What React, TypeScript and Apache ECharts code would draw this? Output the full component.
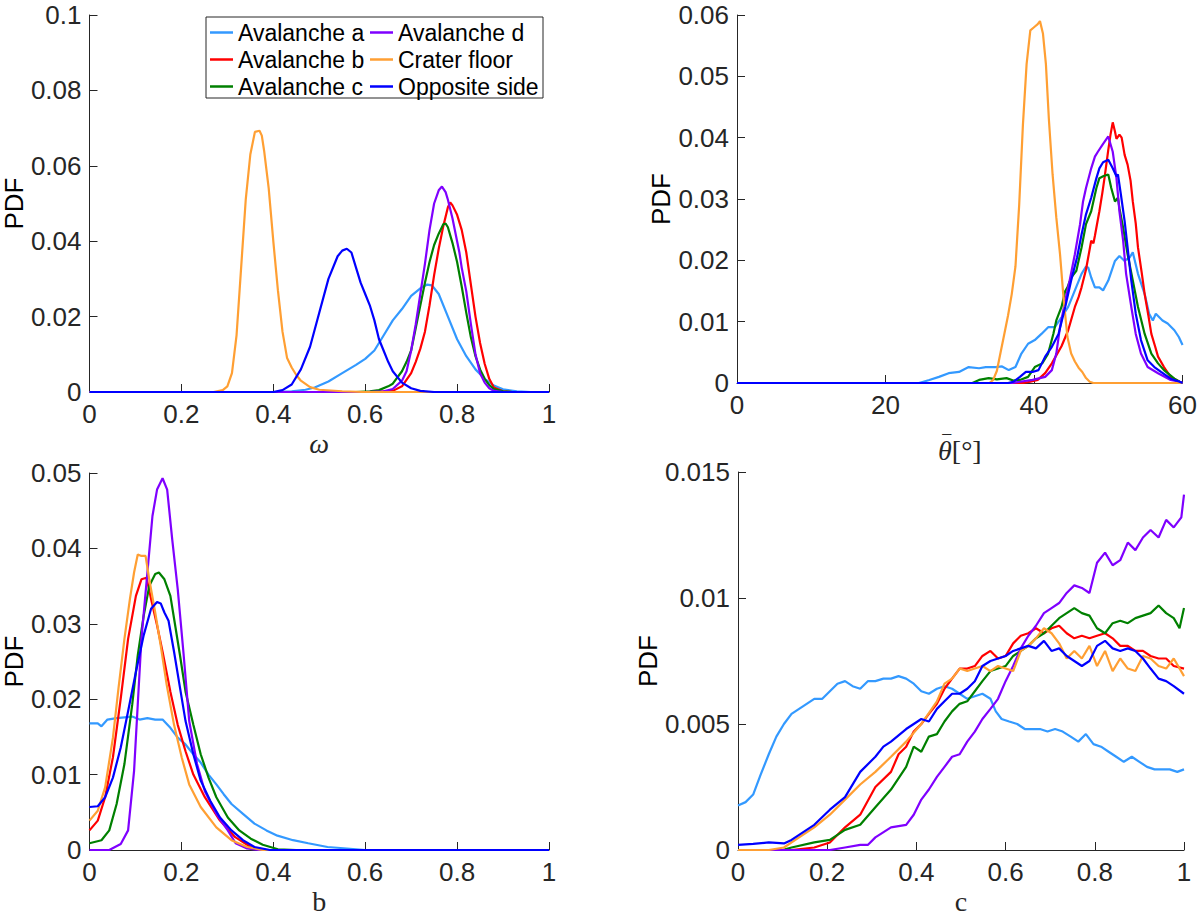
import React, { useEffect, useRef } from "react";
import * as echarts from "echarts";

type Pt = [number, number];

const seriesNames = ["Avalanche a", "Avalanche b", "Avalanche c", "Avalanche d", "Crater floor", "Opposite side"];
const seriesColors = ["#3399ff", "#ff0000", "#008000", "#7f00ff", "#ff9f33", "#0000ff"];
const legendColumn1 = ["Avalanche a", "Avalanche b", "Avalanche c"];
const legendColumn2 = ["Avalanche d", "Crater floor", "Opposite side"];

const xTicksOmega = [0, 0.2, 0.4, 0.6, 0.8, 1];
const yTicksOmega = [0, 0.02, 0.04, 0.06, 0.08, 0.1];
const xTicksTheta = [0, 20, 40, 60];
const yTicksTheta = [0, 0.01, 0.02, 0.03, 0.04, 0.05, 0.06];
const xTicksB = [0, 0.2, 0.4, 0.6, 0.8, 1];
const yTicksB = [0, 0.01, 0.02, 0.03, 0.04, 0.05];
const xTicksC = [0, 0.2, 0.4, 0.6, 0.8, 1];
const yTicksC = [0, 0.005, 0.01, 0.015];

// ---------- panel 1: omega ----------
const omegaA: Pt[] = [[0,0],[0.40,0],[0.44,0.0002],[0.47,0.0006],[0.49,0.0012],[0.52,0.0028],[0.55,0.005],[0.58,0.0072],[0.60,0.0088],[0.62,0.011],[0.64,0.015],[0.66,0.019],[0.68,0.022],[0.70,0.0255],[0.72,0.0275],[0.735,0.0285],[0.745,0.0283],[0.76,0.026],[0.78,0.02],[0.80,0.014],[0.82,0.0095],[0.84,0.006],[0.86,0.0035],[0.88,0.0017],[0.90,0.0007],[0.93,0.0002],[0.96,0],[1,0]];
const omegaB: Pt[] = [[0,0],[0.62,0],[0.66,0.0003],[0.68,0.0015],[0.70,0.005],[0.71,0.008],[0.72,0.0115],[0.73,0.016],[0.74,0.023],[0.75,0.031],[0.76,0.038],[0.77,0.044],[0.78,0.049],[0.785,0.0503],[0.79,0.0495],[0.80,0.047],[0.81,0.043],[0.82,0.037],[0.83,0.0285],[0.84,0.02],[0.85,0.013],[0.86,0.0075],[0.87,0.0035],[0.88,0.0012],[0.90,0.0002],[0.92,0],[1,0]];
const omegaC: Pt[] = [[0,0],[0.58,0],[0.61,0.0002],[0.63,0.0005],[0.65,0.0015],[0.66,0.0022],[0.68,0.0055],[0.69,0.008],[0.70,0.011],[0.71,0.017],[0.72,0.023],[0.73,0.029],[0.74,0.0345],[0.75,0.039],[0.76,0.042],[0.77,0.0445],[0.775,0.0447],[0.78,0.0437],[0.79,0.0395],[0.80,0.0345],[0.81,0.028],[0.82,0.021],[0.83,0.0145],[0.84,0.0095],[0.85,0.006],[0.86,0.0035],[0.87,0.0018],[0.88,0.0008],[0.90,0.0002],[0.92,0],[1,0]];
const omegaD: Pt[] = [[0,0],[0.60,0],[0.64,0.0002],[0.66,0.0008],[0.68,0.003],[0.69,0.0055],[0.70,0.011],[0.71,0.018],[0.72,0.026],[0.73,0.034],[0.74,0.043],[0.75,0.05],[0.76,0.0535],[0.767,0.0545],[0.775,0.053],[0.78,0.051],[0.79,0.046],[0.80,0.04],[0.805,0.037],[0.81,0.033],[0.82,0.0267],[0.83,0.018],[0.84,0.010],[0.85,0.005],[0.86,0.0025],[0.87,0.001],[0.88,0.0003],[0.90,0],[1,0]];
const omegaCrater: Pt[] = [[0,0],[0.27,0],[0.29,0.0005],[0.30,0.0015],[0.31,0.005],[0.32,0.015],[0.33,0.033],[0.34,0.051],[0.35,0.063],[0.36,0.069],[0.37,0.0693],[0.375,0.068],[0.38,0.064],[0.39,0.054],[0.40,0.04],[0.41,0.027],[0.42,0.016],[0.43,0.009],[0.44,0.0065],[0.45,0.0045],[0.46,0.003],[0.48,0.0013],[0.50,0.0006],[0.55,0.0002],[0.60,0],[1,0]];
const omegaOpposite: Pt[] = [[0,0],[0.40,0],[0.42,0.0005],[0.44,0.002],[0.46,0.006],[0.48,0.012],[0.50,0.021],[0.52,0.03],[0.54,0.036],[0.55,0.0375],[0.56,0.038],[0.57,0.037],[0.58,0.033],[0.59,0.029],[0.60,0.026],[0.61,0.023],[0.62,0.019],[0.63,0.014],[0.64,0.011],[0.65,0.008],[0.66,0.0055],[0.68,0.0025],[0.70,0.001],[0.72,0.0003],[0.75,0],[1,0]];

// ---------- panel 2: mean slope theta ----------
const thetaA: Pt[] = [[0,0],[24.5,0],[25.9,0.0005],[27.2,0.001],[28.5,0.0016],[29.9,0.0018],[31.2,0.0026],[32.6,0.0024],[33.5,0.0026],[34.8,0.0026],[35.7,0.0027],[36.6,0.0021],[37.5,0.0026],[38.3,0.0048],[39.2,0.0064],[40.1,0.007],[41.0,0.008],[41.9,0.0091],[42.8,0.0091],[43.7,0.0107],[44.6,0.0124],[45.5,0.0151],[46.4,0.0178],[47.0,0.019],[47.3,0.0188],[47.7,0.0172],[48.2,0.0156],[48.8,0.0156],[49.3,0.0151],[50.0,0.0167],[50.9,0.0199],[51.5,0.0207],[52.2,0.0199],[52.9,0.0205],[53.3,0.0213],[54.0,0.0178],[54.9,0.0145],[55.5,0.0113],[56.0,0.0102],[56.4,0.0113],[57.3,0.0102],[58.0,0.0097],[58.9,0.0086],[59.5,0.0075],[60,0.0062]];
const thetaB: Pt[] = [[0,0],[38.5,0],[39.5,0.0002],[40.5,0.0005],[41.5,0.0016],[42.4,0.0032],[43,0.0045],[43.7,0.006],[44.6,0.0086],[45.5,0.0124],[46,0.014],[46.4,0.0156],[47,0.0185],[47.3,0.0205],[47.7,0.0232],[48,0.0228],[48.2,0.024],[48.8,0.028],[49.2,0.031],[49.5,0.0335],[50,0.038],[50.3,0.0405],[50.6,0.0425],[50.9,0.041],[51.1,0.0398],[51.5,0.0405],[51.8,0.04],[52.2,0.0372],[52.6,0.0356],[53,0.033],[53.3,0.0296],[53.7,0.026],[54,0.0221],[54.5,0.018],[54.9,0.0145],[55.4,0.011],[55.8,0.008],[56.3,0.006],[56.7,0.0043],[57.5,0.0026],[58.4,0.001],[59.6,0.0002],[60,0]];
const thetaC: Pt[] = [[0,0],[31.7,0],[32.6,0.0005],[33.9,0.0008],[35,0.0006],[36.3,0.0008],[37.2,0.0004],[38.1,0.0005],[39.2,0.001],[40.1,0.0026],[41.1,0.0032],[41.9,0.0048],[42.6,0.008],[43.0,0.0102],[43.7,0.0124],[44.2,0.015],[44.5,0.0156],[45.0,0.0172],[45.7,0.0183],[46.4,0.0221],[47.0,0.0259],[47.7,0.028],[48.4,0.0318],[48.8,0.0334],[49.3,0.0337],[50.0,0.034],[50.4,0.0318],[50.9,0.0296],[51.3,0.0302],[51.5,0.0285],[52.0,0.0253],[52.6,0.021],[53.3,0.0167],[54.0,0.0124],[54.9,0.008],[55.8,0.0048],[56.7,0.0032],[57.5,0.0021],[58.9,0.0007],[59.6,0.0002],[60,0]];
const thetaD: Pt[] = [[0,0],[37,0],[38.1,0.0002],[39.8,0.0005],[41.5,0.001],[42.4,0.0021],[43.0,0.0048],[43.5,0.0091],[44.2,0.0134],[44.8,0.0167],[45.5,0.021],[46.2,0.0259],[46.6,0.0296],[47.0,0.0318],[47.7,0.035],[48.2,0.0369],[48.6,0.0377],[49.3,0.039],[50.0,0.0402],[50.6,0.0377],[51.1,0.0334],[51.5,0.028],[52.0,0.0232],[52.4,0.0178],[53.1,0.0124],[53.7,0.008],[54.4,0.0048],[55.3,0.0026],[56.7,0.0016],[58.4,0.0005],[59.6,0.0002],[60,0]];
const thetaCrater: Pt[] = [[0,0],[34,0],[34.5,0.0005],[35,0.002],[35.5,0.005],[36,0.008],[36.5,0.011],[37,0.0145],[37.5,0.019],[38,0.029],[38.5,0.042],[39,0.052],[39.5,0.0575],[40,0.058],[40.5,0.0585],[40.8,0.059],[41.2,0.057],[41.6,0.052],[42,0.043],[42.5,0.034],[43,0.027],[43.5,0.021],[44,0.0135],[44.5,0.0075],[45,0.0048],[45.5,0.0035],[46,0.0025],[46.5,0.0018],[47,0.0008],[47.5,0.0002],[48,0],[60,0]];
const thetaOpposite: Pt[] = [[0,0],[36.5,0],[37.2,0.0002],[38.1,0.001],[38.9,0.0018],[39.8,0.0018],[40.6,0.0021],[41.5,0.0043],[42.4,0.0059],[43.3,0.008],[44.2,0.0124],[45.0,0.0167],[45.8,0.0205],[46.4,0.0242],[47.0,0.0275],[47.7,0.0302],[48.4,0.0334],[48.8,0.035],[49.3,0.036],[50.0,0.0364],[50.6,0.035],[51.1,0.0337],[51.3,0.034],[51.7,0.0307],[52.2,0.0264],[52.6,0.0221],[53.1,0.0167],[53.7,0.0113],[54.4,0.007],[55.3,0.0037],[56.2,0.0026],[57.1,0.0018],[58.4,0.0007],[59.6,0.0002],[60,0]];

// ---------- panel 3: b ----------
const bA: Pt[] = [[0,0.0168],[0.018,0.0168],[0.026,0.0164],[0.039,0.0173],[0.059,0.0175],[0.076,0.0176],[0.093,0.0177],[0.109,0.0173],[0.126,0.0175],[0.143,0.0173],[0.159,0.0173],[0.176,0.0162],[0.192,0.0149],[0.209,0.014],[0.226,0.0127],[0.242,0.0116],[0.259,0.01],[0.276,0.0087],[0.292,0.0074],[0.309,0.0061],[0.334,0.0048],[0.359,0.0035],[0.385,0.0026],[0.409,0.0019],[0.443,0.0013],[0.476,0.0009],[0.518,0.0004],[0.56,0.0002],[0.6,0],[1,0]];
const bB: Pt[] = [[0,0.0026],[0.018,0.0039],[0.034,0.007],[0.051,0.0123],[0.068,0.0201],[0.084,0.028],[0.101,0.0337],[0.113,0.0359],[0.124,0.0361],[0.134,0.0333],[0.147,0.0298],[0.159,0.0263],[0.176,0.021],[0.192,0.0166],[0.209,0.0131],[0.226,0.01],[0.251,0.007],[0.284,0.0039],[0.317,0.0017],[0.351,0.0004],[0.385,0],[1,0]];
const bC: Pt[] = [[0,0.0009],[0.026,0.0013],[0.043,0.0026],[0.059,0.0061],[0.076,0.0114],[0.093,0.0193],[0.105,0.0258],[0.118,0.0311],[0.13,0.035],[0.143,0.0366],[0.151,0.0368],[0.163,0.0359],[0.176,0.0337],[0.184,0.0307],[0.197,0.0258],[0.209,0.021],[0.226,0.0166],[0.242,0.0127],[0.259,0.0096],[0.276,0.007],[0.301,0.0043],[0.326,0.0026],[0.351,0.0015],[0.377,0.0007],[0.41,0.0001],[0.45,0],[1,0]];
const bD: Pt[] = [[0,0],[0.043,0],[0.068,0.0008],[0.084,0.0026],[0.097,0.0105],[0.105,0.0193],[0.113,0.028],[0.126,0.0368],[0.137,0.0443],[0.147,0.0478],[0.159,0.0493],[0.169,0.0478],[0.18,0.0412],[0.192,0.0346],[0.205,0.0258],[0.217,0.0171],[0.234,0.0114],[0.251,0.0078],[0.276,0.0048],[0.301,0.0026],[0.318,0.0009],[0.343,0.0002],[0.37,0],[1,0]];
const bCrater: Pt[] = [[0,0.0039],[0.018,0.0052],[0.034,0.0083],[0.051,0.0149],[0.063,0.0214],[0.076,0.028],[0.088,0.0333],[0.097,0.0368],[0.105,0.0392],[0.113,0.039],[0.122,0.039],[0.13,0.0359],[0.143,0.0315],[0.155,0.0271],[0.168,0.0219],[0.184,0.0166],[0.201,0.0122],[0.217,0.0087],[0.242,0.0057],[0.276,0.003],[0.309,0.0013],[0.343,0.0004],[0.377,0],[1,0]];
const bOpposite: Pt[] = [[0,0.0057],[0.018,0.0058],[0.034,0.007],[0.051,0.0096],[0.068,0.0136],[0.084,0.0184],[0.101,0.0236],[0.118,0.0285],[0.134,0.032],[0.147,0.0329],[0.155,0.0327],[0.163,0.0315],[0.172,0.0304],[0.184,0.0263],[0.197,0.0215],[0.209,0.0171],[0.226,0.0127],[0.242,0.0092],[0.263,0.0065],[0.284,0.0043],[0.309,0.0026],[0.334,0.0013],[0.359,0.0004],[0.393,0],[1,0]];

// ---------- panel 4: c ----------
const cA: Pt[] = [[0,0.00177],[0.017,0.0019],[0.034,0.0022],[0.051,0.003],[0.069,0.0038],[0.086,0.0045],[0.103,0.005],[0.12,0.0054],[0.137,0.0056],[0.154,0.0058],[0.171,0.006],[0.189,0.006],[0.206,0.0063],[0.223,0.0066],[0.24,0.0067],[0.257,0.0065],[0.274,0.0064],[0.291,0.0067],[0.308,0.0067],[0.326,0.0068],[0.343,0.0068],[0.36,0.0069],[0.377,0.0068],[0.394,0.0066],[0.411,0.0063],[0.428,0.0062],[0.446,0.0064],[0.463,0.0065],[0.48,0.0064],[0.497,0.0062],[0.514,0.006],[0.531,0.0061],[0.548,0.0062],[0.566,0.006],[0.578,0.0055],[0.591,0.0052],[0.608,0.0051],[0.626,0.005],[0.643,0.0048],[0.66,0.0048],[0.677,0.0048],[0.694,0.0047],[0.711,0.0048],[0.728,0.0047],[0.746,0.0045],[0.763,0.0043],[0.78,0.0046],[0.797,0.0042],[0.814,0.0041],[0.831,0.0039],[0.848,0.0037],[0.865,0.0035],[0.883,0.0037],[0.9,0.0035],[0.917,0.0033],[0.934,0.0032],[0.951,0.0032],[0.968,0.0032],[0.985,0.0031],[1,0.0032]];
const cB: Pt[] = [[0,0],[0.12,0],[0.171,0.0001],[0.206,0.0003],[0.24,0.0009],[0.274,0.0014],[0.308,0.0025],[0.343,0.0031],[0.36,0.0038],[0.377,0.0041],[0.394,0.0047],[0.411,0.005],[0.428,0.0054],[0.446,0.0058],[0.463,0.0064],[0.48,0.0068],[0.497,0.0072],[0.514,0.0072],[0.531,0.0073],[0.548,0.0077],[0.566,0.0079],[0.583,0.0076],[0.6,0.0077],[0.617,0.0082],[0.634,0.0085],[0.651,0.0086],[0.668,0.0088],[0.686,0.0086],[0.703,0.0088],[0.72,0.0089],[0.737,0.0086],[0.754,0.0084],[0.771,0.0085],[0.788,0.0084],[0.805,0.0085],[0.823,0.0086],[0.84,0.0084],[0.857,0.0081],[0.874,0.0081],[0.891,0.0079],[0.908,0.0079],[0.925,0.0077],[0.943,0.0076],[0.96,0.0076],[0.977,0.0073],[1,0.0072]];
const cC: Pt[] = [[0,0],[0.1,0],[0.12,0.0001],[0.171,0.0003],[0.206,0.0004],[0.24,0.0008],[0.274,0.001],[0.308,0.0017],[0.343,0.0024],[0.377,0.0033],[0.394,0.0041],[0.411,0.0039],[0.428,0.0045],[0.446,0.0046],[0.463,0.0051],[0.48,0.0055],[0.497,0.0058],[0.514,0.0059],[0.531,0.0063],[0.548,0.0067],[0.566,0.0071],[0.583,0.0072],[0.6,0.0073],[0.617,0.0077],[0.634,0.0079],[0.651,0.0081],[0.668,0.0084],[0.686,0.0086],[0.703,0.0089],[0.72,0.0092],[0.737,0.0094],[0.754,0.0096],[0.771,0.0094],[0.788,0.0093],[0.805,0.0088],[0.823,0.0086],[0.84,0.009],[0.857,0.0091],[0.874,0.009],[0.891,0.0092],[0.908,0.0093],[0.925,0.0094],[0.943,0.0097],[0.96,0.0094],[0.977,0.0092],[0.99,0.0088],[1,0.0096]];
const cD: Pt[] = [[0,0],[0.206,0],[0.24,0.0001],[0.274,0.0002],[0.291,0.0002],[0.308,0.0005],[0.343,0.0009],[0.377,0.001],[0.394,0.0014],[0.411,0.002],[0.428,0.0024],[0.446,0.0029],[0.463,0.0033],[0.48,0.0037],[0.497,0.0038],[0.514,0.0043],[0.531,0.0047],[0.548,0.0052],[0.566,0.0056],[0.583,0.006],[0.6,0.0067],[0.617,0.0073],[0.634,0.008],[0.651,0.0085],[0.668,0.0089],[0.686,0.0094],[0.703,0.0096],[0.72,0.0098],[0.737,0.0102],[0.754,0.0105],[0.771,0.0104],[0.788,0.0102],[0.805,0.0114],[0.823,0.0118],[0.84,0.0113],[0.857,0.0115],[0.874,0.0122],[0.891,0.0119],[0.908,0.0124],[0.925,0.0127],[0.943,0.0124],[0.96,0.0131],[0.977,0.0128],[0.994,0.0132],[1,0.0141]];
const cCrater: Pt[] = [[0,0],[0.069,0],[0.103,0.0001],[0.137,0.0005],[0.171,0.0009],[0.206,0.0014],[0.24,0.002],[0.274,0.0026],[0.308,0.0031],[0.343,0.0037],[0.377,0.0043],[0.411,0.005],[0.446,0.0059],[0.463,0.0066],[0.48,0.0068],[0.497,0.0072],[0.514,0.0071],[0.531,0.0072],[0.548,0.0073],[0.566,0.0071],[0.583,0.0073],[0.6,0.0072],[0.617,0.0071],[0.634,0.0079],[0.651,0.0081],[0.668,0.0084],[0.686,0.0088],[0.703,0.0086],[0.72,0.0082],[0.737,0.0076],[0.754,0.0079],[0.771,0.0076],[0.788,0.0081],[0.805,0.0073],[0.823,0.0079],[0.84,0.0071],[0.857,0.0076],[0.874,0.0072],[0.891,0.0071],[0.908,0.0077],[0.925,0.0076],[0.943,0.0073],[0.96,0.0072],[0.977,0.0076],[1,0.0069]];
const cOpposite: Pt[] = [[0,0.0002],[0.034,0.00024],[0.069,0.0003],[0.103,0.00026],[0.12,0.0004],[0.137,0.0006],[0.171,0.001],[0.206,0.0016],[0.24,0.0021],[0.274,0.0031],[0.308,0.0037],[0.326,0.0041],[0.343,0.0043],[0.377,0.0048],[0.394,0.005],[0.411,0.0052],[0.428,0.0051],[0.446,0.0056],[0.463,0.0059],[0.48,0.0062],[0.497,0.0062],[0.514,0.0064],[0.531,0.0067],[0.548,0.0073],[0.566,0.0075],[0.583,0.0076],[0.6,0.0077],[0.617,0.0079],[0.634,0.008],[0.651,0.0081],[0.668,0.008],[0.686,0.0083],[0.703,0.0079],[0.72,0.008],[0.737,0.0077],[0.754,0.0075],[0.771,0.0073],[0.788,0.0075],[0.805,0.0081],[0.823,0.0083],[0.84,0.008],[0.857,0.0079],[0.874,0.008],[0.891,0.0079],[0.908,0.0076],[0.925,0.0072],[0.943,0.0068],[0.96,0.0067],[0.977,0.0065],[1,0.0062]];

const panelData: Pt[][][] = [
  [omegaA, omegaB, omegaC, omegaD, omegaCrater, omegaOpposite],
  [thetaA, thetaB, thetaC, thetaD, thetaCrater, thetaOpposite],
  [bA, bB, bC, bD, bCrater, bOpposite],
  [cA, cB, cC, cD, cCrater, cOpposite],
];

const AXIS_COLOR = "#262626";
const SANS = "Liberation Sans";
const SERIF = "Liberation Serif";

function makeXAxis(gridIndex: number, ticks: number[], name: string, italic: boolean, nameGap: number, rich?: any) {
  return {
    type: "value",
    gridIndex,
    min: ticks[0],
    max: ticks[ticks.length - 1],
    interval: ticks[1] - ticks[0],
    name,
    nameLocation: "middle",
    nameGap,
    nameTextStyle: {
      fontFamily: SERIF,
      fontStyle: italic ? "italic" : "normal",
      fontSize: 28,
      color: AXIS_COLOR,
      rich,
    },
    axisLine: { show: true, onZero: false, lineStyle: { color: AXIS_COLOR, width: 1 } },
    axisTick: { show: true, inside: true, length: 8, lineStyle: { color: AXIS_COLOR, width: 1 } },
    axisLabel: { fontFamily: SANS, fontSize: 26, lineHeight: 20, color: AXIS_COLOR, margin: 12 },
    splitLine: { show: false },
  };
}

function makeYAxis(gridIndex: number, ticks: number[], nameGap: number) {
  return {
    type: "value",
    gridIndex,
    min: ticks[0],
    max: ticks[ticks.length - 1],
    interval: ticks[1] - ticks[0],
    name: "PDF",
    nameLocation: "middle",
    nameRotate: 90,
    nameGap,
    nameTextStyle: { fontFamily: SANS, fontSize: 26, color: "#000" },
    axisLine: { show: true, onZero: false, lineStyle: { color: AXIS_COLOR, width: 1 } },
    axisTick: { show: true, inside: true, length: 8, lineStyle: { color: AXIS_COLOR, width: 1 } },
    axisLabel: { fontFamily: SANS, fontSize: 26, lineHeight: 20, color: AXIS_COLOR, margin: 8 },
    splitLine: { show: false },
  };
}

export default function App() {
  const ref = useRef<HTMLDivElement>(null);

  useEffect(() => {
    if (!ref.current) return;
    const chart = echarts.init(ref.current, undefined, { renderer: "svg" });

    const series: any[] = [];
    panelData.forEach((panel, p) => {
      panel.forEach((data, i) => {
        series.push({
          type: "line",
          name: seriesNames[i],
          xAxisIndex: p,
          yAxisIndex: p,
          data,
          symbol: "none",
          showSymbol: false,
          color: seriesColors[i],
          lineStyle: { color: seriesColors[i], width: 2.2 },
          z: 2 + i,
        });
      });
    });

    const legendBase = {
      orient: "vertical",
      top: 21,
      itemGap: 4,
      itemWidth: 23,
      itemHeight: 2.5,
      icon: "rect",
      padding: 0,
      selectedMode: false,
      textStyle: { fontFamily: SANS, fontSize: 23, color: "#000", lineHeight: 22 },
    };

    const thetaRich = {
      bar: { fontFamily: SERIF, fontSize: 18, lineHeight: 7, width: 18, align: "center", color: AXIS_COLOR },
      gap: { width: 26, lineHeight: 7 },
      t: { fontFamily: SERIF, fontStyle: "italic", fontSize: 28, width: 14, align: "center", color: AXIS_COLOR },
      u: { fontFamily: SERIF, fontStyle: "normal", fontSize: 28, width: 30, align: "left", color: AXIS_COLOR },
    };

    chart.setOption({
      animation: false,
      backgroundColor: "#ffffff",
      grid: [
        { left: 88, top: 15, width: 461, height: 377 },
        { left: 737, top: 15, width: 448, height: 368 },
        { left: 88, top: 473, width: 461, height: 380 },
        { left: 738, top: 472, width: 446, height: 380 },
      ],
      xAxis: [
        makeXAxis(0, xTicksOmega, "ω", true, 37),
        makeXAxis(1, xTicksTheta, "{bar|–}{gap|}\n{t|θ}{u|[°]}", true, 30, thetaRich),
        makeXAxis(2, xTicksB, "b", false, 37),
        makeXAxis(3, xTicksC, "c", false, 37),
      ],
      yAxis: [
        makeYAxis(0, yTicksOmega, 60),
        makeYAxis(1, yTicksTheta, 63),
        makeYAxis(2, yTicksB, 60),
        makeYAxis(3, yTicksC, 77),
      ],
      legend: [
        { ...legendBase, left: 210, data: legendColumn1 },
        { ...legendBase, left: 370, data: legendColumn2 },
      ],
      graphic: [
        {
          type: "rect",
          shape: { x: 206, y: 17, width: 337, height: 81 },
          style: { fill: "none", stroke: AXIS_COLOR, lineWidth: 1 },
          z: 1,
        },
      ],
      series,
    });

    return () => chart.dispose();
  }, []);

  return (
    <div
      ref={ref}
      style={{ position: "fixed", left: 0, top: 0, width: 1200, height: 916, background: "#fff" }}
    />
  );
}
